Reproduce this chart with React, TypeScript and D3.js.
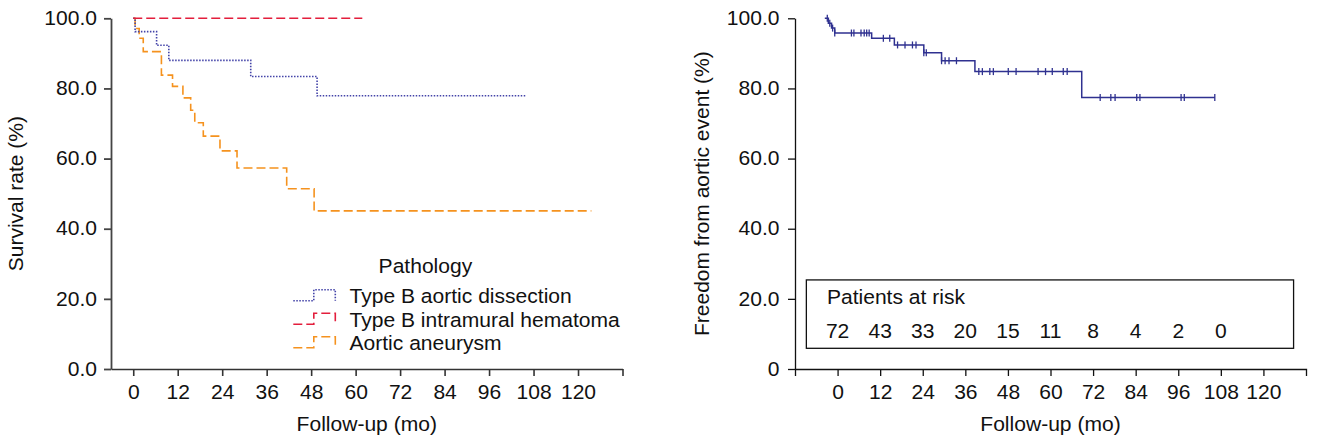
import React, { useEffect, useRef } from "react";
import * as d3 from "d3";

// ---- left panel: survival by pathology (months, %) ----
const dissectionTimes = [0, 0.5, 6.3, 9.6, 31.7, 49.6];
const dissectionValues = [100, 96.2, 92.3, 88.0, 83.4, 77.9];
const dissectionEnd = 105.8;

const hematomaTimes = [0];
const hematomaValues = [100];
const hematomaEnd = 61.8;

const aneurysmTimes = [0, 0.5, 1.6, 2.7, 7.6, 10.6, 13.4, 15.5, 16.6, 18.9, 23.4, 28.0, 41.4, 48.8];
const aneurysmValues = [100, 97.1, 94.3, 90.5, 83.8, 80.6, 77.3, 73.8, 70.2, 66.4, 62.2, 57.3, 51.4, 45.1];
const aneurysmEnd = 123.6;

const legendNames = ["Type B aortic dissection", "Type B intramural hematoma", "Aortic aneurysm"];

// ---- right panel: freedom from aortic event ----
const eventTimes = [-3.6, -2.6, -1.7, -0.8, 9.6, 16.0, 24.3, 29.3, 38.7, 68.8];
const eventValues = [100, 98.6, 97.2, 95.8, 94.3, 92.4, 90.2, 87.9, 84.8, 77.4];
const eventEnd = 106.3;
const censorTimes = [
  -2.9, -2.2, -1.4, -0.8, 3.9, 4.6, 6.6, 7.5, 8.2, 8.9, 12.9, 14.7, 16.9, 19.0, 21.1, 22.1,
  24.3, 25.0, 29.3, 30.3, 31.4, 33.5, 39.8, 40.8, 42.9, 43.9, 48.1, 50.3, 56.5, 58.6, 60.5,
  63.6, 64.7, 74.0, 77.0, 78.2, 84.3, 85.2, 96.8, 97.7, 106.3,
];

const riskMonths = [0, 12, 24, 36, 48, 60, 72, 84, 96, 108];
const riskCounts = [72, 43, 33, 20, 15, 11, 8, 4, 2, 0];

const xTicks = [0, 12, 24, 36, 48, 60, 72, 84, 96, 108, 120];
const yTicks = [0, 20, 40, 60, 80, 100];

const W = 1317;
const H = 439;
const SX = 1.08; // text in the source is a little wide
const FONT = "'Liberation Sans', Arial, Helvetica, sans-serif";
const FS = 19.5;

const BLUE = "#4343a8";
const RED = "#e31e3c";
const ORANGE = "#f5921e";
const NAVY = "#2f3190";

const toSteps = (times: number[], values: number[], end: number) =>
  times.map((t, i) => [t, values[i]] as [number, number]).concat([[end, values[values.length - 1]]]);

const App = () => {
  const svgRef = useRef<SVGSVGElement>(null);

  useEffect(() => {
    const svg = d3.select(svgRef.current);
    svg.selectAll("*").remove();

    const y = d3.scaleLinear().domain([0, 100]).range([369, 18.3]);
    const xL = d3.scaleLinear().domain([-6, 132]).range([111, 622.5]);
    const xR = d3.scaleLinear().domain([-12, 132]).range([795, 1306]);

    const stretch = (sel: any) =>
      sel.each(function (this: any) {
        const t = d3.select(this);
        t.attr("x", (+t.attr("x") || 0) / SX).attr("transform", `scale(${SX},1)`);
      });

    const label = (x: number, yy: number, s: string | number, anchor = "start") =>
      svg
        .append("text")
        .attr("x", x / SX)
        .attr("y", yy)
        .attr("transform", `scale(${SX},1)`)
        .attr("text-anchor", anchor)
        .attr("font-size", FS)
        .attr("font-family", FONT)
        .attr("fill", "#111")
        .text(s);

    const styleAxis = (g: any, color: string, width: number) => {
      g.attr("font-size", FS).attr("font-family", FONT);
      g.select(".domain").attr("stroke", color).attr("stroke-width", width);
      g.selectAll(".tick line").attr("stroke", color).attr("stroke-width", width);
      g.selectAll(".tick text").attr("fill", "#111");
      stretch(g.selectAll(".tick text"));
    };

    // ---------- left panel ----------
    const gyL = svg
      .append("g")
      .attr("transform", `translate(${xL(-6)},0)`)
      .call(d3.axisLeft(y).tickValues(yTicks).tickFormat(d3.format(".1f") as any).tickSize(7).tickSizeOuter(0).tickPadding(7));
    styleAxis(gyL, "#444", 1.8);

    const gxL = svg
      .append("g")
      .attr("transform", `translate(0,${y(0)})`)
      .call(
        d3
          .axisBottom(xL)
          .tickValues([...xTicks, 132])
          .tickFormat((d: any) => (d === 132 ? "" : String(d)))
          .tickSize(7)
          .tickSizeOuter(0)
          .tickPadding(9)
      );
    styleAxis(gxL, "#333", 1.6);

    const lineL = d3
      .line<[number, number]>()
      .x((d) => xL(d[0]))
      .y((d) => y(d[1]))
      .curve(d3.curveStepAfter);

    const leftSeries = [
      { pts: toSteps(dissectionTimes, dissectionValues, dissectionEnd), color: BLUE, dash: "1.5,1.5" },
      { pts: toSteps(hematomaTimes, hematomaValues, hematomaEnd), color: RED, dash: "9,4" },
      { pts: toSteps(aneurysmTimes, aneurysmValues, aneurysmEnd), color: ORANGE, dash: "9,4" },
    ];
    // orange first so red/blue sit on top at the start
    [leftSeries[2], leftSeries[0], leftSeries[1]].forEach((s) => {
      svg
        .append("path")
        .attr("d", lineL(s.pts))
        .attr("fill", "none")
        .attr("stroke", s.color)
        .attr("stroke-width", 1.6)
        .attr("stroke-dasharray", s.dash);
    });

    svg
      .append("text")
      .attr("transform", `translate(23,${(y(0) + y(100)) / 2}) rotate(-90)`)
      .attr("text-anchor", "middle")
      .attr("font-size", 21)
      .attr("font-family", FONT)
      .attr("fill", "#111")
      .text("Survival rate (%)");
    label((xL(-6) + xL(132)) / 2, 431, "Follow-up (mo)", "middle");

    // legend
    label(378.6, 273, "Pathology");
    legendNames.forEach((name, i) => {
      const base = 303.3 + i * 23.5;
      const low = base - 2.6;
      const high = low - 11;
      svg
        .append("path")
        .attr("d", `M293.3,${low}H313.8V${high}H335.3V${low}`)
        .attr("fill", "none")
        .attr("stroke", leftSeries[i].color)
        .attr("stroke-width", 1.6)
        .attr("stroke-dasharray", leftSeries[i].dash);
      label(349.5, base, name);
    });

    // ---------- right panel ----------
    const gyR = svg
      .append("g")
      .attr("transform", `translate(${xR(-12)},0)`)
      .call(
        d3
          .axisLeft(y)
          .tickValues(yTicks)
          .tickFormat((d: any) => (d === 0 ? "0" : d3.format(".1f")(d)))
          .tickSize(7)
          .tickSizeOuter(0)
          .tickPadding(8.5)
      );
    styleAxis(gyR, "#111", 1.3);

    const gxR = svg
      .append("g")
      .attr("transform", `translate(0,${y(0)})`)
      .call(d3.axisBottom(xR).tickValues(xTicks).tickSize(7).tickSizeOuter(7).tickPadding(9));
    styleAxis(gxR, "#111", 1.3);

    const lineR = d3
      .line<[number, number]>()
      .x((d) => xR(d[0]))
      .y((d) => y(d[1]))
      .curve(d3.curveStepAfter);

    svg
      .append("path")
      .attr("d", lineR(toSteps(eventTimes, eventValues, eventEnd)))
      .attr("fill", "none")
      .attr("stroke", NAVY)
      .attr("stroke-width", 1.5);

    const stepAt = (t: number) => {
      let v = eventValues[0];
      eventTimes.forEach((tt, i) => {
        if (tt <= t) v = eventValues[i];
      });
      return v;
    };

    svg
      .append("g")
      .selectAll("line")
      .data(censorTimes)
      .enter()
      .append("line")
      .attr("x1", (d) => xR(d))
      .attr("x2", (d) => xR(d))
      .attr("y1", (d) => y(stepAt(d)) - 3.5)
      .attr("y2", (d) => y(stepAt(d)) + 3.5)
      .attr("stroke", NAVY)
      .attr("stroke-width", 1.3);

    svg
      .append("text")
      .attr("transform", `translate(709,${(y(0) + y(100)) / 2}) rotate(-90)`)
      .attr("text-anchor", "middle")
      .attr("font-size", 21)
      .attr("font-family", FONT)
      .attr("fill", "#111")
      .text("Freedom from aortic event (%)");
    label((xR(-12) + xR(132)) / 2, 431, "Follow-up (mo)", "middle");

    // patients at risk box
    svg
      .append("rect")
      .attr("x", xR(-8.8))
      .attr("y", y(25.4))
      .attr("width", xR(128.5) - xR(-8.8))
      .attr("height", y(5.9) - y(25.4))
      .attr("fill", "none")
      .attr("stroke", "#111")
      .attr("stroke-width", 1.3);
    label(xR(-3.0), y(18.6), "Patients at risk");
    riskMonths.forEach((m, i) => {
      label(xR(m), y(8.7), riskCounts[i], "middle");
    });
  }, []);

  return (
    <svg
      ref={svgRef}
      width={W}
      height={H}
      style={{ position: "absolute", left: 0, top: 0, background: "#fff" }}
    ></svg>
  );
};

export default App;
